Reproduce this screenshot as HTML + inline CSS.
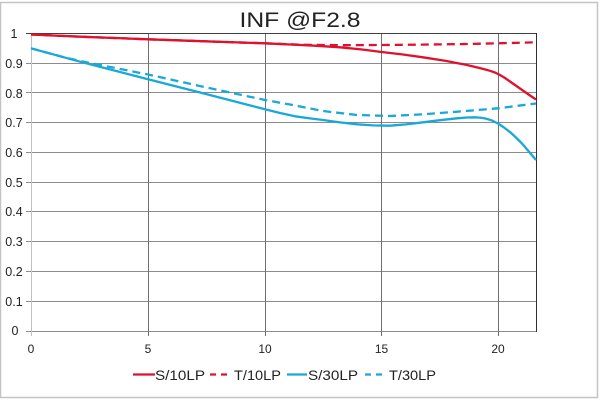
<!DOCTYPE html>
<html><head><meta charset="utf-8"><style>
html,body{margin:0;padding:0;background:#fff;}
svg{display:block;}
text{font-family:"Liberation Sans",sans-serif;fill:#222;}
</style></head><body>
<svg width="600" height="400" viewBox="0 0 600 400" xmlns="http://www.w3.org/2000/svg">
<rect x="0" y="0" width="600" height="400" fill="#fff"/>
<rect x="0.5" y="2.5" width="597" height="395" fill="none" stroke="#c4c4c4" stroke-width="1.5"/>
<text x="300" y="27" font-size="21" text-anchor="middle" textLength="121" lengthAdjust="spacingAndGlyphs">INF @F2.8</text>
<g stroke="#8c8c8c" stroke-width="1" shape-rendering="crispEdges">
<line x1="26" y1="301.5" x2="536" y2="301.5"/>
<line x1="26" y1="271.5" x2="536" y2="271.5"/>
<line x1="26" y1="241.5" x2="536" y2="241.5"/>
<line x1="26" y1="211.5" x2="536" y2="211.5"/>
<line x1="26" y1="182.5" x2="536" y2="182.5"/>
<line x1="26" y1="152.5" x2="536" y2="152.5"/>
<line x1="26" y1="122.5" x2="536" y2="122.5"/>
<line x1="26" y1="92.5" x2="536" y2="92.5"/>
<line x1="26" y1="63.5" x2="536" y2="63.5"/>
<line x1="26" y1="331.5" x2="536" y2="331.5"/>
</g>
<g stroke="#707070" stroke-width="1" shape-rendering="crispEdges">
<line x1="148.5" y1="33" x2="148.5" y2="336"/>
<line x1="265.5" y1="33" x2="265.5" y2="336"/>
<line x1="381.5" y1="33" x2="381.5" y2="336"/>
<line x1="498.5" y1="33" x2="498.5" y2="336"/>
</g>
<line x1="31.5" y1="33" x2="31.5" y2="336" stroke="#c0c0c0" stroke-width="1" shape-rendering="crispEdges"/>
<line x1="26" y1="33.5" x2="537" y2="33.5" stroke="#404040" stroke-width="1" shape-rendering="crispEdges"/>
<line x1="536.5" y1="33" x2="536.5" y2="332" stroke="#303030" stroke-width="1" shape-rendering="crispEdges"/>
<g font-size="12.5" text-anchor="middle">
<text x="14" y="38">1</text>
<text x="14" y="68">0.9</text>
<text x="14" y="98">0.8</text>
<text x="14" y="127">0.7</text>
<text x="14" y="157">0.6</text>
<text x="14" y="187">0.5</text>
<text x="14" y="216">0.4</text>
<text x="14" y="246">0.3</text>
<text x="14" y="276">0.2</text>
<text x="14" y="306">0.1</text>
<text x="15" y="335">0</text>
</g>
<g font-size="12" text-anchor="middle">
<text x="31" y="353">0</text>
<text x="148" y="353">5</text>
<text x="265" y="353">10</text>
<text x="381.5" y="353">15</text>
<text x="498" y="353">20</text>
</g>
<g fill="none" stroke-width="2.3" stroke-linejoin="round" stroke-linecap="butt">
<polyline stroke="#e0102f" stroke-dasharray="8,5" points="31,34.5 80,36.7 148,39.3 205,41.3 265,43.3 300,44.7 340,45.2 381,45 423,44.6 467,44 498,43.3 536,42.3"/>
<polyline stroke="#e0102f" points="31,34.5 80,36.7 148,39.3 205,41.3 265,43.3 290,44.5 315,45.7 340,47.3 361,49.4 381.7,52 402,54.4 423,57.3 445,60.8 467,65 478,67.6 485,69.4 490,70.8 495,72.5 500,75 505,78 510,81.5 515,85 520,88.5 525,92 530,95.5 536,99.5"/>
<polyline stroke="#1aa8d8" stroke-dasharray="8,5" points="31,48.3 63,57 80,61 148,74.5 203,86.7 265,100 290,104.5 323,111 357,115 390,116 423,114.3 457,111.7 498,108.3 536,103.5"/>
<polyline stroke="#1aa8d8" points="31,48.3 80,61.7 148,79.3 203,93.3 265,109.3 280,113 295,116.3 310,118.4 323,120 340,122.4 357,124.3 373,125.4 390,125.7 406,124.4 423,122.3 440,120.2 457,118.3 467,117.5 475,117.3 480,117.6 486,118.6 492,120.5 498,123.5 504,127.5 510,132 516,137.5 522,143.5 528,150.5 536,160"/>
</g>
<g stroke-width="2.3" fill="none">
<line x1="133" y1="374.5" x2="155" y2="374.5" stroke="#e0102f"/>
<line x1="210" y1="374.5" x2="231" y2="374.5" stroke="#e0102f" stroke-dasharray="6,5"/>
<line x1="287" y1="374.5" x2="307" y2="374.5" stroke="#1aa8d8"/>
<line x1="365" y1="374.5" x2="386" y2="374.5" stroke="#1aa8d8" stroke-dasharray="6,5"/>
</g>
<g font-size="14">
<text x="155" y="380" textLength="50" lengthAdjust="spacingAndGlyphs">S/10LP</text>
<text x="234" y="380" textLength="47" lengthAdjust="spacingAndGlyphs">T/10LP</text>
<text x="308" y="380" textLength="50" lengthAdjust="spacingAndGlyphs">S/30LP</text>
<text x="389" y="380" textLength="47" lengthAdjust="spacingAndGlyphs">T/30LP</text>
</g>
</svg>
</body></html>
